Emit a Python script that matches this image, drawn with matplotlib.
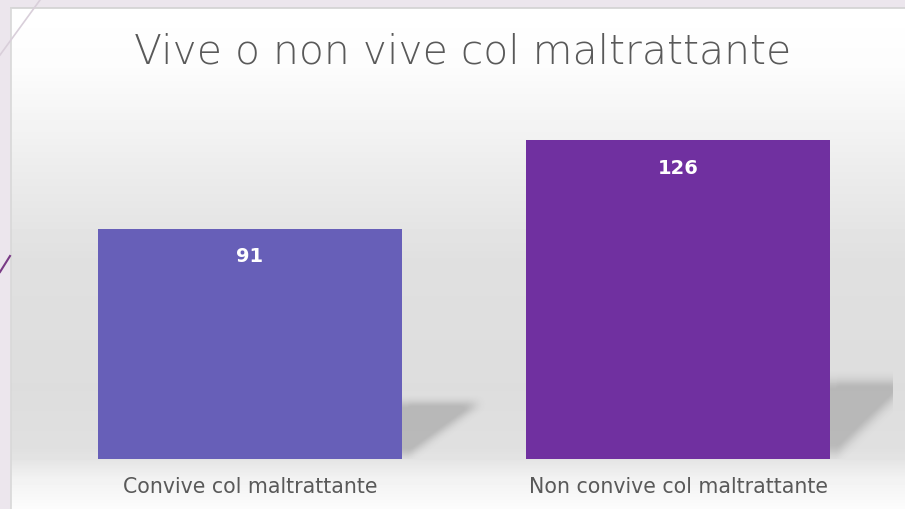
import numpy as np
import matplotlib.pyplot as plt
from matplotlib.lines import Line2D

title = 'Vive o non vive col maltrattante'
categories = ['Convive col maltrattante', 'Non convive col maltrattante']
values = [91, 126]
bar_colors = ['#675fb8', '#7030a0']

W, H = 905, 509
fig = plt.figure(figsize=(W / 100, H / 100), dpi=100)
fig.patch.set_facecolor('#ece6ed')

# slide panel with vertical grey gradient
px0, py0 = 11, 8
bg = fig.add_axes([px0 / W, 0, 1 - px0 / W, 1 - py0 / H], zorder=0)
stops_y = [0, 60, 150, 250, 380, 440, 451, 470, 501]
stops_c = [255, 252, 238, 224, 221, 224, 228, 242, 252]
rows = np.interp(np.arange(H - py0), stops_y, stops_c) / 255.0
grad = np.repeat(rows[:, None], 2, axis=1)
bg.imshow(grad, cmap='gray', vmin=0, vmax=1, aspect='auto', extent=[0, 1, 0, 1],
          interpolation='nearest')
bg.set_xlim(0, 1)
bg.set_ylim(0, 1)
bg.axis('off')

# panel edges and decorative lines
fig.add_artist(Line2D([px0 / W, 1], [1 - py0 / H, 1 - py0 / H], color='#d2d2d2', lw=1.2))
fig.add_artist(Line2D([px0 / W, px0 / W], [0, 1 - py0 / H], color='#d8d8d8', lw=1.2))
fig.add_artist(Line2D([0, 40 / W], [1 - 55 / H, 1], color='#d9cfda', lw=1.2))
fig.add_artist(Line2D([0, 10 / W], [1 - 272 / H, 1 - 256 / H], color='#7a3b86', lw=1.5))

# chart axes
ax = fig.add_axes([36 / W, 50 / H, 856 / W, 354 / H], zorder=1)
ax.patch.set_alpha(0)
x = np.arange(len(values))
width = 0.71
ax.set_xlim(-0.5, 1.5)
ax.set_ylim(0, 140)

# soft perspective shadows behind each bar
for xi, v in zip(x, values):
    xr = xi + width / 2
    sw, sh = 0.18, 0.24 * v
    ex0, ex1 = xr, xr + sw + 0.06
    ey0, ey1 = 0, sh * 1.2
    nx, ny = 120, 90
    gx = np.linspace(ex0, ex1, nx)
    gy = np.linspace(ey1, ey0, ny)
    X, Y = np.meshgrid(gx, gy)
    m = ((Y <= sh) & ((X - xr) / sw <= Y / sh)).astype(float)
    k = np.ones(13) / 13
    for _ in range(2):
        m = np.apply_along_axis(lambda r: np.convolve(r, k, mode='same'), 1, m)
        m = np.apply_along_axis(lambda c: np.convolve(c, k, mode='same'), 0, m)
    m[:, :6] = m[:, 6:7]
    rgba = np.zeros((ny, nx, 4))
    rgba[..., :3] = 0.3
    rgba[..., 3] = np.clip(m * 0.34, 0, 0.26)
    ax.imshow(rgba, extent=[ex0, ex1, ey0, ey1], aspect='auto', zorder=1, interpolation='bilinear')

bars = ax.bar(x, values, width=width, color=bar_colors, zorder=2)
for b, v in zip(bars, values):
    ax.annotate(str(v), (b.get_x() + b.get_width() / 2, v), xytext=(0, -20),
                textcoords='offset points', ha='center', va='center',
                color='white', fontsize=14, fontweight='bold', family='DejaVu Sans')

ax.set_xticks(x)
ax.set_xticklabels(categories, fontsize=14.8, color='#595959', family='DejaVu Sans')
ax.tick_params(axis='x', length=0, pad=13)
ax.set_yticks([])
for s in ax.spines.values():
    s.set_visible(False)

fig.text(463 / W, 1 - 52 / H, title, ha='center', va='center', fontsize=29.4,
         color='#595959', family='DejaVu Sans', fontweight='light')

fig.savefig('out.png', dpi=100)
